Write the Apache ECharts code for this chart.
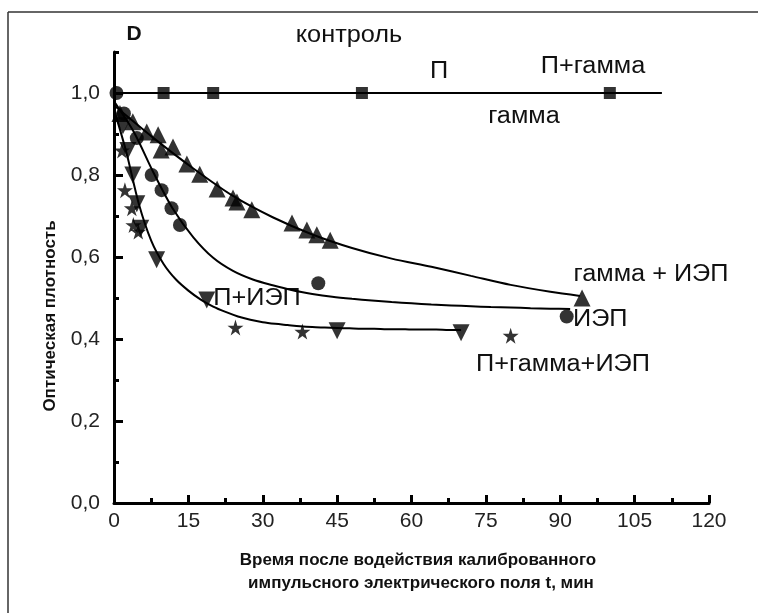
<!DOCTYPE html>
<html><head><meta charset="utf-8">
<script src="https://cdn.jsdelivr.net/npm/echarts@6/dist/echarts.min.js"></script>
<style>html,body{margin:0;padding:0;background:#fff}#c{width:758px;height:613px}</style>
</head><body><div id="c"></div>
<script>
// ---- data ----
var xTicks = [0,15,30,45,60,75,90,105,120];
var yMajor = [0,0.2,0.4,0.6,0.8,1.0];
var yMinor = [0.1,0.3,0.5,0.7,0.9,1.1];

var controlT = [10,20,50,100];
var controlD = [1,1,1,1];
var controlLineT = [0,110.5];
var controlLineD = [1,1];

var upTriT = [1.2,3.8,6.6,8.9,9.5,11.9,14.7,17.3,20.8,24,24.8,27.8,35.9,38.9,40.9,43.6,94.4];
var upTriD = [0.95,0.93,0.905,0.898,0.861,0.868,0.827,0.802,0.766,0.744,0.734,0.715,0.683,0.666,0.654,0.641,0.50];

var circT = [0.5,2,4.6,7.6,9.6,11.6,13.3,41.2,91.3];
var circD = [1.0,0.95,0.89,0.80,0.763,0.719,0.678,0.536,0.455];

var downT = [1.8,2.8,3.8,4.6,5.4,8.6,18.7,45,70];
var downD = [0.92,0.86,0.80,0.73,0.67,0.593,0.495,0.42,0.415];

var starT = [1.6,2.2,3.6,3.9,4.9,24.5,38,80];
var starD = [0.86,0.763,0.719,0.678,0.662,0.428,0.418,0.408];

// fitted curves
var fitAT = [0,8,16,24,32,40,48,56,64,72,80,88,94];
var fitAD = [0.97,0.89,0.816,0.749,0.697,0.655,0.622,0.596,0.576,0.554,0.532,0.515,0.505];
var fitBT = [0,4,8,12,16,20,24,28,32,36,40,44,48,52,56,60,64,68,72,76,80,84,88,92];
var fitBD = [0.98,0.905,0.805,0.715,0.648,0.598,0.566,0.545,0.531,0.519,0.51,0.503,0.498,0.494,0.49,0.487,0.484,0.482,0.48,0.478,0.477,0.475,0.474,0.473];
var fitCT = [0,2.5,5,7.5,10,12.5,15,17.5,20,22.5,25,27.5,30,32.5,35,37.5,40,42.5,45,47.5,50,52.5,55,57.5,60,62.5,65,67.5,70];
var fitCD = [0.96,0.855,0.73,0.64,0.583,0.545,0.518,0.496,0.479,0.466,0.455,0.447,0.441,0.437,0.434,0.431,0.429,0.428,0.427,0.426,0.425,0.425,0.424,0.424,0.423,0.423,0.423,0.422,0.422];

function zip(a,b){return a.map(function(v,i){return [v,b[i]];});}

var FONT = '"Liberation Sans", Arial, sans-serif';
var STAR = 'path://M50,0 L61,35 L98,35 L68,57 L79,91 L50,70 L21,91 L32,57 L2,35 L39,35 Z';

var chart = echarts.init(document.getElementById('c'), null, {renderer:'canvas'});
function fitLine(t,d){return {type:'line',data:zip(t,d),smooth:0.3,symbol:'none',lineStyle:{color:'#000',width:2},z:2,silent:true};}
function pts(t,d,sym,size,rot){return {type:'scatter',data:zip(t,d),symbol:sym,symbolSize:size,symbolRotate:rot||0,itemStyle:{color:'#000'},z:3,silent:true};}
function txt(s,x,y,align){return {type:'text',x:x,y:y,scaleX:1.1,style:{text:s,font:'23px '+FONT,fill:'#111',textAlign:align||'center',textVerticalAlign:'middle'}};}

var option = {
  animation:false,
  backgroundColor:'#fff',
  grid:{left:114,right:49,top:52,bottom:110},
  xAxis:{type:'value',min:0,max:120,interval:15,
    axisLine:{lineStyle:{color:'#000',width:3}},
    axisTick:{inside:true,length:8,lineStyle:{color:'#000',width:3}},
    minorTick:{show:true,splitNumber:2,length:5,lineStyle:{color:'#000',width:3}},
    splitLine:{show:false},
    axisLabel:{color:'#222',fontSize:21,fontFamily:FONT,margin:8}
  },
  yAxis:[{type:'value',min:0,max:1.1,position:'left',
    axisLine:{show:true,lineStyle:{color:'#000',width:3}},
    axisTick:{show:true,inside:true,length:9,customValues:yMajor,lineStyle:{color:'#000',width:3}},
    splitLine:{show:false},
    axisLabel:{customValues:yMajor,color:'#222',fontSize:21,fontFamily:FONT,margin:14,
      formatter:function(v){return v.toFixed(1).replace('.',',');}}
  },{type:'value',min:0,max:1.1,position:'left',
    axisLine:{show:false},
    axisTick:{show:true,inside:true,length:5,customValues:yMinor,lineStyle:{color:'#000',width:3}},
    splitLine:{show:false},
    axisLabel:{show:false}
  }],
  series:[
    {type:'line',data:zip(controlLineT,controlLineD),symbol:'none',lineStyle:{color:'#000',width:2},silent:true},
    pts(controlT,controlD,'rect',12),
    fitLine(fitAT,fitAD),
    fitLine(fitBT,fitBD),
    fitLine(fitCT,fitCD),
    pts(upTriT,upTriD,'triangle',17),
    pts(circT,circD,'circle',14),
    pts(downT,downD,'triangle',17,180),
    pts(starT,starD,STAR,16)
  ],
  graphic:[
    {type:'line',shape:{x1:8,y1:12,x2:758,y2:12},style:{stroke:'#333',lineWidth:1.5}},
    {type:'line',shape:{x1:8,y1:12,x2:8,y2:613},style:{stroke:'#333',lineWidth:1.5}},
    {type:'text',x:134,y:34,style:{text:'D',font:'bold 21px '+FONT,fill:'#111',textAlign:'center',textVerticalAlign:'middle'}},
    txt('контроль',349,36),
    txt('П',439,72),
    txt('П+гамма',593,67),
    txt('гамма',524,117),
    txt('гамма + ИЭП',651,275),
    txt('ИЭП',573,320,'left'),
    txt('П+гамма+ИЭП',563,365),
    txt('П+ИЭП',257,299),
    {type:'text',x:418,y:560,style:{text:'Время после водействия калиброванного',font:'bold 17px '+FONT,fill:'#111',textAlign:'center',textVerticalAlign:'middle'}},
    {type:'text',x:421,y:583,style:{text:'импульсного электрического поля t, мин',font:'bold 17px '+FONT,fill:'#111',textAlign:'center',textVerticalAlign:'middle'}},
    {type:'text',x:50,y:316,rotation:Math.PI/2,style:{text:'Оптическая плотность',font:'bold 17px '+FONT,fill:'#111',textAlign:'center',textVerticalAlign:'middle'}}
  ]
};
chart.setOption(option);
</script></body></html>
